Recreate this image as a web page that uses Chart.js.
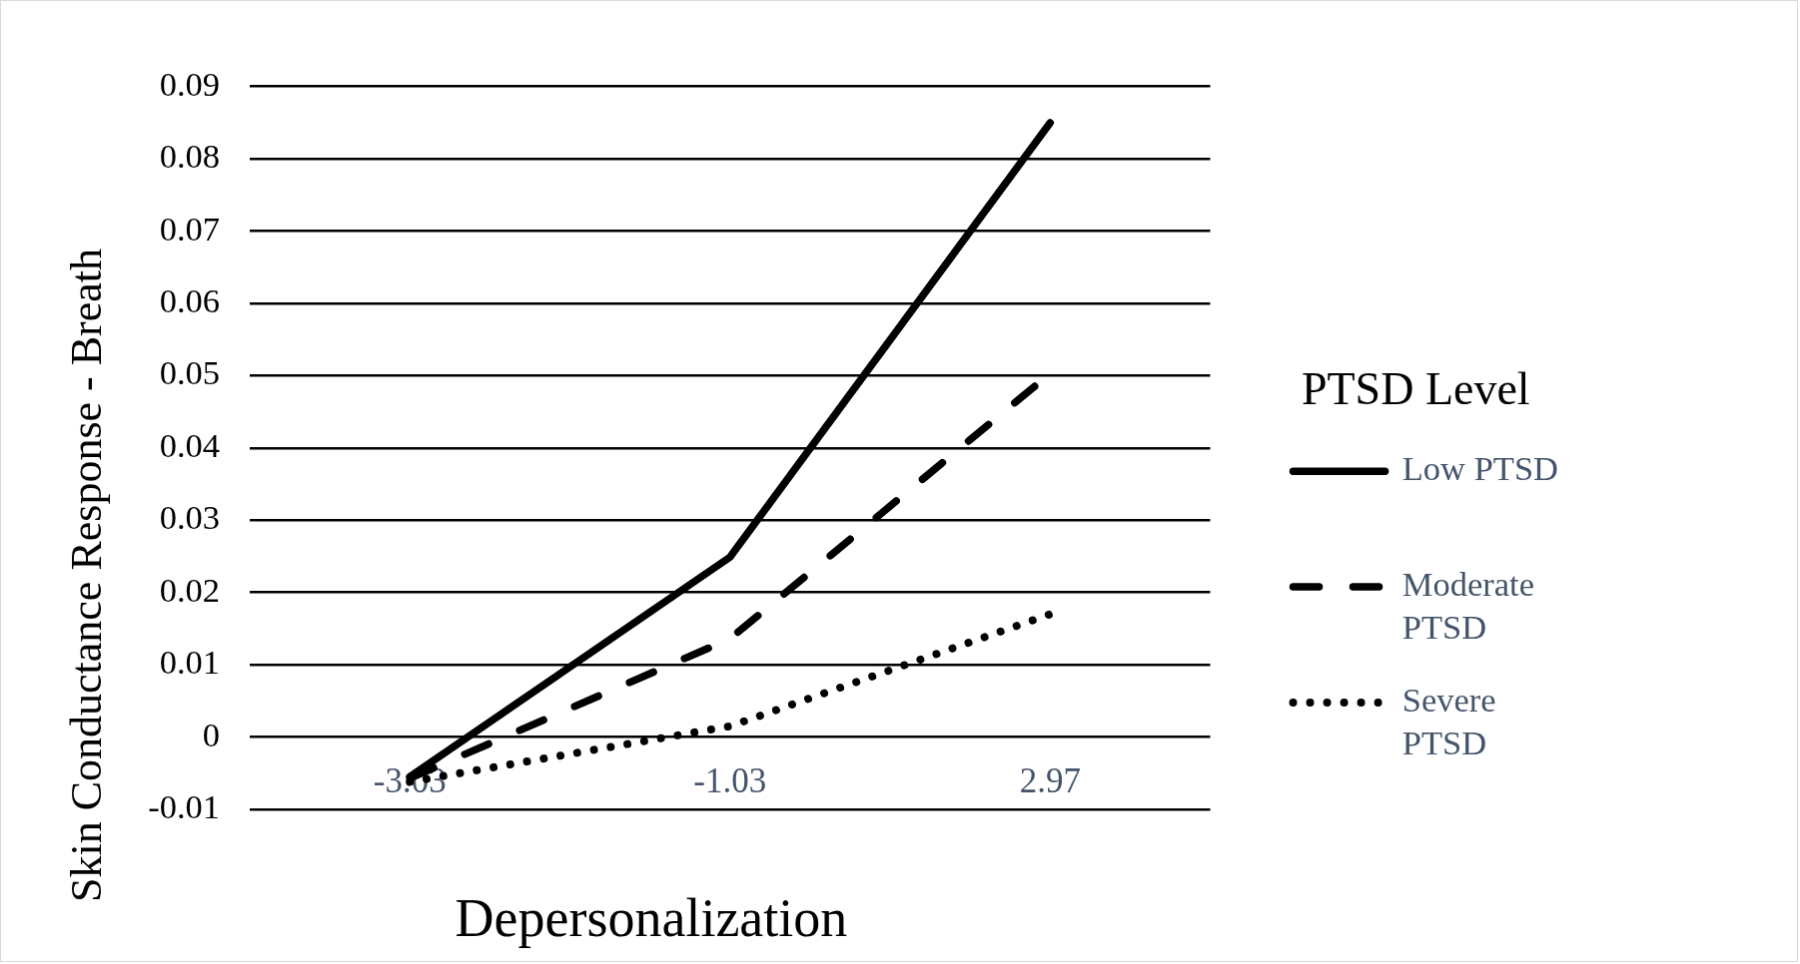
<!DOCTYPE html>
<html>
<head>
<meta charset="utf-8">
<script src="https://cdn.jsdelivr.net/npm/chart.js@4.4.1/dist/chart.umd.min.js"></script>
<style>
  html, body { margin: 0; padding: 0; background: #ffffff; }
  canvas { display: block; border: 1px solid #d9d9d9; }
</style>
</head>
<body>
<canvas id="chart" width="1798" height="962"></canvas>
<script>
// ---- data ----
const categories = ['-3.03', '-1.03', '2.97'];
const seriesNames = ['Low PTSD', 'Moderate PTSD', 'Severe PTSD'];
const legendLines = [['Low PTSD', ''], ['Moderate', 'PTSD'], ['Severe', 'PTSD']];
const lowPTSD = [-0.0055, 0.0249, 0.0850];
const moderatePTSD = [-0.0057, 0.0136, 0.0503];
const severePTSD = [-0.0062, 0.0015, 0.0170];
const yTickValues = [-0.01, 0, 0.01, 0.02, 0.03, 0.04, 0.05, 0.06, 0.07, 0.08, 0.09];
const xAxisTitle = 'Depersonalization';
const yAxisTitle = 'Skin Conductance Response - Breath';
const legendTitle = 'PTSD Level';

// ---- styling ----
const SERIF = "'Liberation Serif', 'Times New Roman', serif";
const SLATE = '#44546A';

const xTitlePlugin = {
  id: 'xTitlePlugin',
  afterDraw(chart) {
    const { ctx, chartArea } = chart;
    ctx.save();
    ctx.font = '54px ' + SERIF;
    ctx.fillStyle = '#000000';
    ctx.textAlign = 'center';
    ctx.textBaseline = 'alphabetic';
    const x = chartArea.left + 0.418 * (chartArea.right - chartArea.left);
    ctx.fillText(xAxisTitle, x, chartArea.bottom + 127);
    ctx.restore();
  }
};

const ctx = document.getElementById('chart').getContext('2d');
new Chart(ctx, {
  type: 'line',
  data: {
    labels: categories,
    datasets: [
      {
        label: seriesNames[0], data: lowPTSD,
        borderColor: '#000000', backgroundColor: '#000000',
        borderWidth: 7.5, borderDash: [], borderCapStyle: 'round', borderJoinStyle: 'round',
        pointRadius: 0, pointHoverRadius: 0, tension: 0, fill: false
      },
      {
        label: seriesNames[1], data: moderatePTSD,
        borderColor: '#000000', backgroundColor: '#000000',
        borderWidth: 7.5, borderDash: [26, 34], borderCapStyle: 'round', borderJoinStyle: 'round',
        pointRadius: 0, pointHoverRadius: 0, tension: 0, fill: false
      },
      {
        label: seriesNames[2], data: severePTSD,
        borderColor: '#000000', backgroundColor: '#000000',
        borderWidth: 8, borderDash: [0.01, 17], borderCapStyle: 'round', borderJoinStyle: 'round',
        pointRadius: 0, pointHoverRadius: 0, tension: 0, fill: false
      }
    ]
  },
  options: {
    responsive: false,
    animation: false,
    devicePixelRatio: 1,
    layout: { padding: { left: 0, top: 85.7, right: 229, bottom: 59 } },
    plugins: {
      tooltip: { enabled: false },
      title: {
        display: true,
        text: yAxisTitle,
        position: 'left',
        align: 'start',
        color: '#000000',
        font: { family: SERIF, size: 44, weight: 'normal' },
        padding: { top: 62, bottom: 0 }
      },
      legend: {
        display: true,
        position: 'right',
        align: 'start',
        maxWidth: 500,
        title: {
          display: true,
          text: legendTitle,
          color: '#000000',
          font: { family: SERIF, size: 46, weight: 'normal' },
          padding: { top: 283, bottom: 0 }
        },
        labels: {
          usePointStyle: true,
          pointStyle: 'line',
          pointStyleWidth: 92,
          padding: 30,
          color: SLATE,
          font: { family: SERIF, size: 34.5, lineHeight: 1.246 },
          generateLabels(chart) {
            return chart.data.datasets.map((ds, i) => ({
              text: legendLines[i],
              fillStyle: 'rgba(0,0,0,0)',
              strokeStyle: ds.borderColor,
              lineWidth: ds.borderWidth,
              lineDash: ds.borderDash,
              lineCap: 'round',
              pointStyle: 'line',
              fontColor: SLATE,
              hidden: false,
              datasetIndex: i
            }));
          }
        }
      }
    },
    scales: {
      x: {
        type: 'category',
        offset: true,
        position: 'bottom',
        grid: { display: false, drawTicks: false },
        border: { display: false },
        ticks: {
          color: SLATE,
          font: { family: SERIF, size: 35 },
          mirror: true,
          padding: 5,
          maxRotation: 0,
          autoSkip: false
        },
        afterFit(scale) { scale.height = 93; }
      },
      y: {
        type: 'linear',
        position: 'left',
        min: -0.01,
        max: 0.09,
        grid: { color: '#000000', lineWidth: 2.5, drawTicks: false },
        border: { display: false },
        ticks: {
          color: '#000000',
          font: { family: SERIF, size: 34.5 },
          padding: 30,
          callback: (v) => String(+Number(v).toFixed(2))
        },
        afterBuildTicks(scale) { scale.ticks = yTickValues.map(v => ({ value: v })); },
        afterFit(scale) { scale.width = 134.2; }
      },
      y2: {
        type: 'linear',
        position: 'right',
        display: true,
        grid: { display: false, drawTicks: false },
        border: { display: false },
        ticks: { display: false },
        afterFit(scale) { scale.width = 53; }
      }
    }
  },
  plugins: [xTitlePlugin]
});
</script>
</body>
</html>
